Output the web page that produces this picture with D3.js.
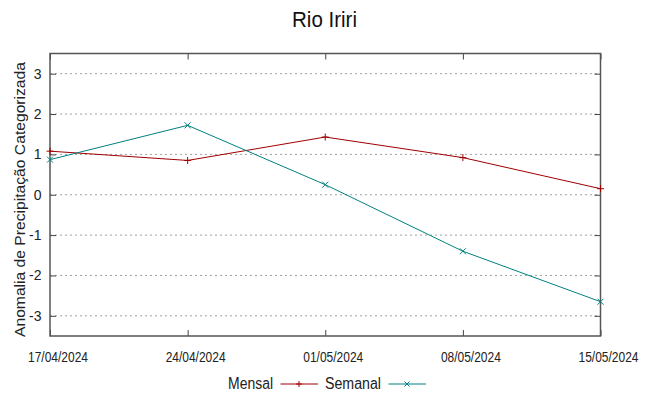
<!DOCTYPE html>
<html>
<head>
  <script src="https://d3js.org/d3.v7.min.js"></script>
  <style>
    body { margin: 0; background: #fff; }
    svg { display: block; font-family: 'Liberation Sans', Arial, sans-serif; }
  </style>
</head>
<body>
  <svg id="chart" width="649" height="396"></svg>
  <script>
    // chart data
    const dates = ["17/04/2024", "24/04/2024", "01/05/2024", "08/05/2024", "15/05/2024"];
    const mensal = [1.08, 0.85, 1.43, 0.92, 0.15];
    const semanal = [0.87, 1.72, 0.25, -1.40, -2.65];
    const yTicks = [-3, -2, -1, 0, 1, 2, 3];

    const width = 649, height = 396;
    const plotLeft = 50, plotRight = 600.5, plotTop = 53.5, plotBottom = 336;

    const svg = d3.select("#chart");
    const parse = d3.timeParse("%d/%m/%Y");
    const fmt = d3.timeFormat("%d/%m/%Y");
    const xDates = dates.map(parse);

    const x = d3.scaleTime()
      .domain(d3.extent(xDates))
      .range([plotLeft, plotRight]);
    const y = d3.scaleLinear()
      .domain([-3.5, 3.5])
      .range([plotBottom, plotTop]);

    // grid lines
    svg.append("g")
      .selectAll("line")
      .data(yTicks)
      .enter()
      .append("line")
      .attr("x1", plotLeft)
      .attr("x2", plotRight)
      .attr("y1", d => y(d))
      .attr("y2", d => y(d))
      .attr("stroke", "#a0a0a0")
      .attr("stroke-width", 1)
      .attr("stroke-dasharray", "2,3");

    // axes: ticks pointing inward on all four sides
    const axisL = svg.append("g")
      .attr("transform", `translate(${plotLeft},0)`)
      .call(d3.axisRight(y).tickValues(yTicks).tickSize(6).tickFormat(""));
    const axisR = svg.append("g")
      .attr("transform", `translate(${plotRight},0)`)
      .call(d3.axisLeft(y).tickValues(yTicks).tickSize(6).tickFormat(""));
    const axisB = svg.append("g")
      .attr("transform", `translate(0,${plotBottom})`)
      .call(d3.axisTop(x).tickValues(xDates).tickSize(6).tickFormat(""));
    const axisT = svg.append("g")
      .attr("transform", `translate(0,${plotTop})`)
      .call(d3.axisBottom(x).tickValues(xDates).tickSize(6).tickFormat(""));

    [axisL, axisR, axisB, axisT].forEach(a => {
      a.select(".domain").remove();
      a.selectAll("line").attr("stroke", "#444").attr("stroke-width", 1);
    });

    // frame
    svg.append("rect")
      .attr("x", plotLeft)
      .attr("y", plotTop)
      .attr("width", plotRight - plotLeft)
      .attr("height", plotBottom - plotTop)
      .attr("fill", "none")
      .attr("stroke", "#555")
      .attr("stroke-width", 1.5);

    // tick labels
    svg.append("g")
      .selectAll("text")
      .data(yTicks)
      .enter()
      .append("text")
      .attr("x", plotLeft - 8.5)
      .attr("y", d => y(d) + 5)
      .attr("text-anchor", "end")
      .attr("font-size", 14)
      .attr("fill", "#222")
      .text(d => d);

    // date labels: slightly condensed and shifted right, like the original
    svg.append("g")
      .selectAll("text")
      .data(xDates)
      .enter()
      .append("text")
      .attr("x", d => x(d) + 8 - 30)
      .attr("y", 362)
      .attr("font-size", 14)
      .attr("textLength", 60)
      .attr("lengthAdjust", "spacingAndGlyphs")
      .attr("fill", "#222")
      .text(d => fmt(d));

    // title and axis label
    svg.append("text")
      .attr("x", 324.5)
      .attr("y", 27)
      .attr("text-anchor", "middle")
      .attr("font-size", 21.5)
      .attr("textLength", 65)
      .attr("lengthAdjust", "spacingAndGlyphs")
      .attr("fill", "#111")
      .text("Rio Iriri");

    svg.append("text")
      .attr("transform", `translate(25,199.5) rotate(-90)`)
      .attr("text-anchor", "middle")
      .attr("font-size", 15)
      .attr("textLength", 275)
      .attr("lengthAdjust", "spacingAndGlyphs")
      .attr("fill", "#222")
      .text("Anomalia de Precipitação Categorizada");

    // series
    const series = [
      { name: "Mensal", values: mensal, color: "#a00000", marker: "plus" },
      { name: "Semanal", values: semanal, color: "#008080", marker: "cross" }
    ];

    const line = d3.line()
      .x(d => x(d.date))
      .y(d => y(d.value));

    const markerPath = (type, cx, cy, s) => type === "plus"
      ? `M${cx - s},${cy}H${cx + s}M${cx},${cy - s}V${cy + s}`
      : `M${cx - s},${cy - s}L${cx + s},${cy + s}M${cx - s},${cy + s}L${cx + s},${cy - s}`;

    series.forEach(s => {
      const pts = s.values.map((v, i) => ({ date: xDates[i], value: v }));
      svg.append("path")
        .datum(pts)
        .attr("d", line)
        .attr("fill", "none")
        .attr("stroke", s.color)
        .attr("stroke-width", 1);
      svg.append("g")
        .selectAll("path")
        .data(pts)
        .enter()
        .append("path")
        .attr("d", d => markerPath(s.marker, x(d.date), y(d.value), s.marker === "plus" ? 3.5 : 3))
        .attr("stroke", s.color)
        .attr("stroke-width", 1)
        .attr("fill", "none");
    });

    // legend
    const legendItems = [
      { name: "Mensal", x: 228, w: 45, color: "#a00000", marker: "plus" },
      { name: "Semanal", x: 325, w: 56, color: "#008080", marker: "cross" }
    ];
    const legendY = 384;
    const lg = svg.append("g");
    legendItems.forEach(d => {
      lg.append("text")
        .attr("x", d.x)
        .attr("y", 388.5)
        .attr("font-size", 16)
        .attr("textLength", d.w)
        .attr("lengthAdjust", "spacingAndGlyphs")
        .attr("fill", "#222")
        .text(d.name);
      lg.append("line")
        .attr("x1", d.x + d.w + 7.5)
        .attr("x2", d.x + d.w + 45)
        .attr("y1", legendY)
        .attr("y2", legendY)
        .attr("stroke", d.color)
        .attr("stroke-width", 1);
      lg.append("path")
        .attr("d", markerPath(d.marker, d.x + d.w + 26, legendY, d.marker === "plus" ? 3 : 2.5))
        .attr("stroke", d.color)
        .attr("stroke-width", 1);
    });
  </script>
</body>
</html>
